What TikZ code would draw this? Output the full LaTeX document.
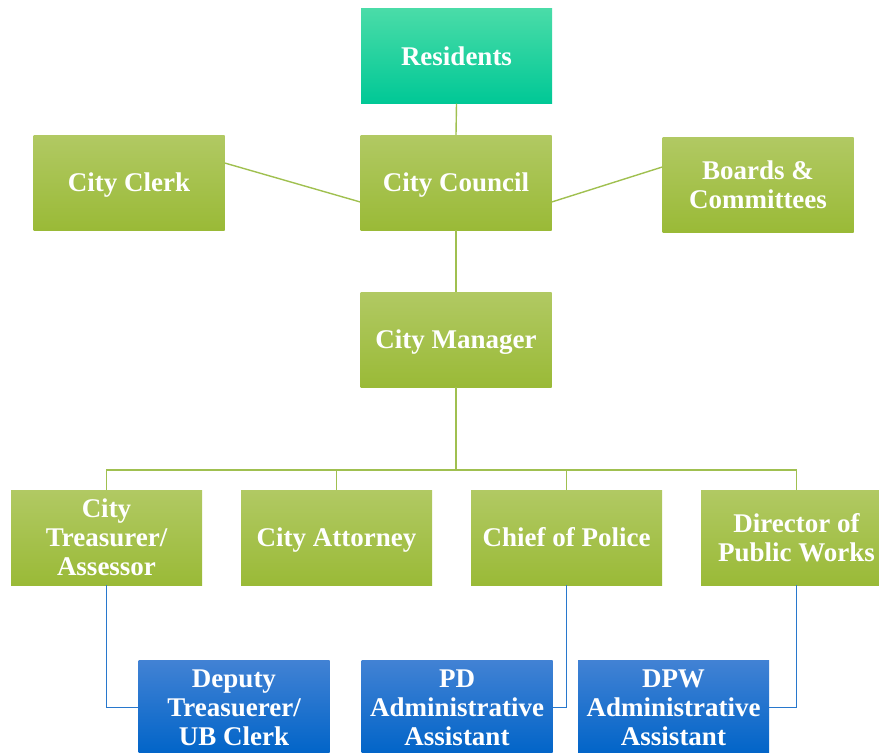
\documentclass[tikz,border=0pt]{standalone}
\usepackage{fontspec}
\setmainfont{Liberation Serif}
\usetikzlibrary{positioning}
\definecolor{greentop}{RGB}{177,201,99}
\definecolor{greenmid}{RGB}{166,196,72}
\definecolor{greenbot}{RGB}{154,186,55}
\definecolor{bluetop}{RGB}{66,130,212}
\definecolor{bluemid}{RGB}{16,110,208}
\definecolor{bluebot}{RGB}{0,100,200}
\definecolor{tealtop}{RGB}{74,220,168}
\definecolor{tealbot}{RGB}{0,200,150}
\definecolor{greenline}{RGB}{160,192,80}
\definecolor{blueline}{RGB}{40,120,205}
\tikzset{
  box/.style={minimum width=191pt, minimum height=95pt, inner sep=2pt,
    align=center, text=white, font=\fontsize{27}{29}\selectfont\bfseries},
  oneline/.style={text height=18pt, text depth=0pt},
  officer/.style={box, top color=greentop, middle color=greenmid, bottom color=greenbot},
  assistant/.style={box, top color=bluetop, middle color=bluemid, bottom color=bluebot},
  citizens/.style={box, top color=tealtop, bottom color=tealbot},
  gline/.style={draw=greenline, line width=1.4pt},
  bline/.style={draw=blueline, line width=1.4pt}
}
\begin{document}
\begin{tikzpicture}[x=1pt, y=-1pt]
	\useasboundingbox (0,0) rectangle (879,753);
	\clip (0,0) rectangle (879,753);
	
	% Top levels
	\node[citizens, oneline] (residents) at (456.5, 56) {Residents};
	\node[officer, oneline] (council) at (456, 182.5) {City Council};
	\node[officer, oneline] (clerk) at (129, 182.5) {City Clerk};
	\node[officer] (boards) at (758, 184.5) {Boards \&\\Committees};
	\node[officer, oneline] (manager) at (456, 339.5) {City Manager};
	
	% Department heads
	\node[officer] (treasurer) at (106.5, 537.5) {City\\Treasurer/\\Assessor};
	\node[officer, oneline] (attorney) at (336.5, 537.5) {City Attorney};
	\node[officer, oneline] (chief) at (566.5, 537.5) {Chief of Police};
	\node[officer] (director) at (796.5, 537.5) {Director of\\Public Works};
	
	% Staff
	\node[assistant] (deputy) at (234, 707.5) {Deputy\\Treasuerer/\\UB Clerk};
	\node[assistant] (pdassist) at (457, 707.5) {PD\\Administrative\\Assistant};
	\node[assistant] (dpwassist) at (673.5, 707.5) {DPW\\Administrative\\Assistant};
	
	\coordinate (bar) at (456, 470);
	
	% Green connectors
	\draw[gline] (residents.south) -- (council.north);
	\draw[gline] (council.south) -- (manager.north);
	\draw[gline] ([yshift=19.5pt]clerk.east) -- ([yshift=-19.5pt]council.west);
	\draw[gline] ([yshift=-19.5pt]council.east) -- ([yshift=17.5pt]boards.west);
	\draw[gline] (manager.south) -- (bar);
	\foreach \n in {treasurer, attorney, chief, director}
		\draw[gline] (\n.north) |- (bar);
	
	% Blue connectors
	\draw[bline] (treasurer.south) |- (deputy.west);
	\draw[bline] (chief.south) |- (pdassist.east);
	\draw[bline] (director.south) |- (dpwassist.east);
\end{tikzpicture}
\end{document}
